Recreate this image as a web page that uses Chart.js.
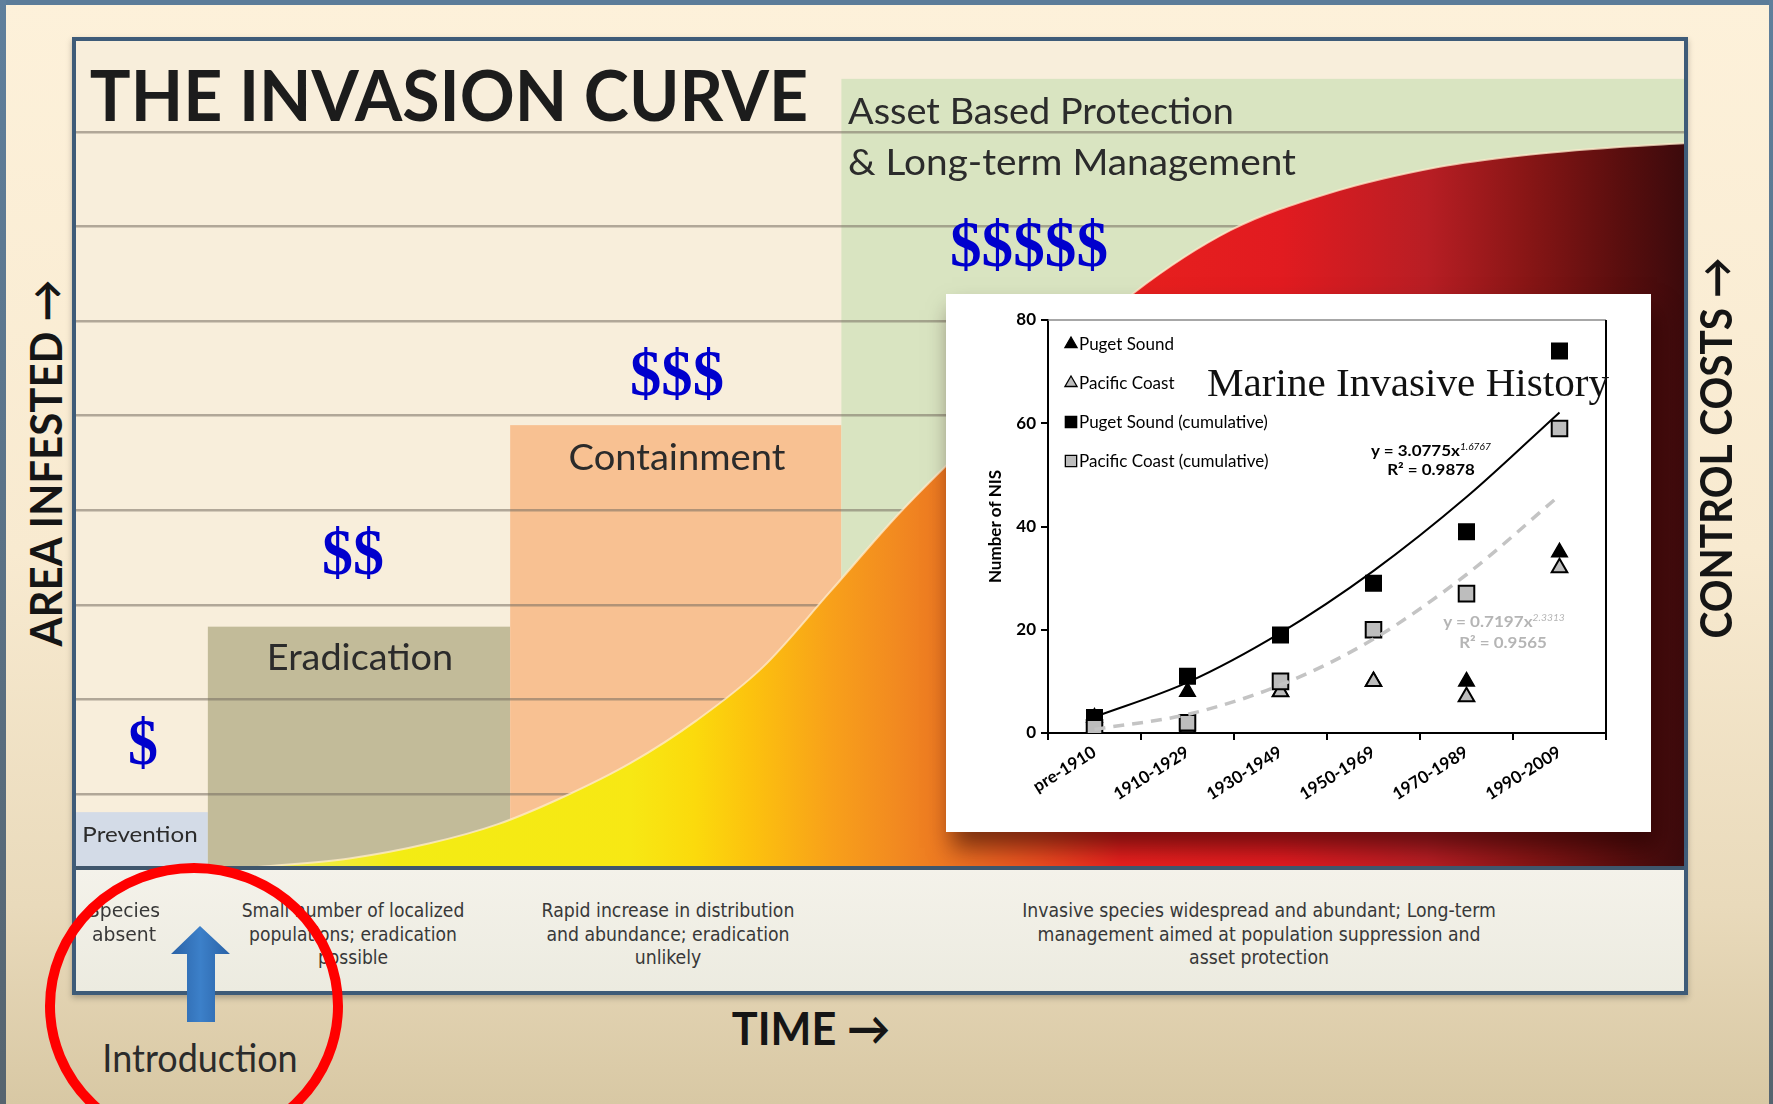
<!DOCTYPE html>
<html>
<head>
<meta charset="utf-8">
<title>The Invasion Curve</title>
<script src="https://cdn.jsdelivr.net/npm/chart.js@4.4.0/dist/chart.umd.min.js"></script>
<style>
html, body { margin: 0; padding: 0; }
body {
  width: 1773px; height: 1104px; overflow: hidden; position: relative;
  background: linear-gradient(to bottom, #fdf1da 0%, #f8ead0 50%, #e9dabb 82%, #d8c8a4 100%);
  font-family: Lato, sans-serif;
}
.band-top { position: absolute; left: 0; top: 0; width: 1773px; height: 5px; background: #5b7c99; z-index: 9; }
.band-left { position: absolute; left: 0; top: 0; width: 6px; height: 1104px; background: linear-gradient(#5f7f9c, #56646f); z-index: 9; }
.band-right { position: absolute; right: 0; top: 0; width: 4px; height: 1104px; background: linear-gradient(#5f7f9c, #56646f); z-index: 9; }
#frame {
  position: absolute; left: 72px; top: 37px; width: 1616px; height: 958px; box-sizing: border-box;
  border: 4px solid #3e5b78; background: #f8eedb; box-shadow: 0 3px 6px rgba(0,0,0,0.25);
}
#curveChart { position: absolute; left: 76px; top: 41px; z-index: 1; }
#strip {
  position: absolute; left: 76px; top: 866px; width: 1608px; height: 125px; box-sizing: border-box;
  border-top: 4px solid #3f566c; background: linear-gradient(#f4f2ea, #ecebe0); z-index: 3;
}
#inset {
  position: absolute; left: 946px; top: 294px; width: 705px; height: 538px; background: #fff;
  box-shadow: 6px 16px 22px rgba(30,0,0,0.55); z-index: 2;
}
#nisChart { position: absolute; left: 0; top: 0; }
.t { position: absolute; white-space: nowrap; line-height: 1; z-index: 4; }
.title { font-size: 70px; font-weight: bold; color: #1c1c1c; }
.lab { font-size: 36px; color: #2b2b2b; }
.cost { font-family: "Liberation Serif", serif; font-weight: bold; font-size: 66px; color: #0000cd; }
.note { font-family: "Liberation Sans Narrow", "DejaVu Sans Condensed", sans-serif; font-size: 20px; line-height: 23.5px; color: #383838; text-align: center; }
.axis { font-size: 44px; font-weight: bold; color: #151515; }
.eq { font-size: 15px; font-weight: bold; color: #000; }
.eq sup { font-size: 9px; font-weight: normal; font-style: italic; vertical-align: 6px; line-height: 0; }
.grey { color: #b5b5b5; }
#marks { position: absolute; left: 0; top: 0; z-index: 6; pointer-events: none; }
</style>
</head>
<body>
<div class="band-top"></div>
<div class="band-left"></div>
<div class="band-right"></div>

<div id="frame"></div>
<canvas id="curveChart" width="1608" height="826"></canvas>
<div id="strip"></div>

<div class="t title" data-x="449" data-y="94" data-w="718">THE INVASION CURVE</div>
<div class="t lab" data-x="1041" data-y="110" data-w="386">Asset Based Protection</div>
<div class="t lab" data-x="1072" data-y="161" data-w="448">&amp; Long-term Management</div>
<div class="t lab" data-x="677" data-y="456" data-w="217">Containment</div>
<div class="t lab" data-x="360" data-y="656" data-w="186">Eradication</div>
<div class="t lab" data-x="140" data-y="833" data-w="115" style="font-size:21px">Prevention</div>

<div class="t cost" data-x="143" data-y="742" data-w="30">$</div>
<div class="t cost" data-x="353" data-y="552" data-w="62">$$</div>
<div class="t cost" data-x="677" data-y="373" data-w="94">$$$</div>
<div class="t cost" data-x="1029" data-y="244" data-w="158">$$$$$</div>

<div class="t note" data-x="124" data-y="922" data-w="72">Species<br>absent</div>
<div class="t note" data-x="353" data-y="934" data-w="223">Small number of localized<br>populations; eradication<br>possible</div>
<div class="t note" data-x="668" data-y="934" data-w="253">Rapid increase in distribution<br>and abundance; eradication<br>unlikely</div>
<div class="t note" data-x="1259" data-y="934" data-w="474">Invasive species widespread and abundant; Long-term<br>management aimed at population suppression and<br>asset protection</div>

<div class="t axis" data-x="811" data-y="1028" data-w="158" style="font-size:46px">TIME &#8594;</div>
<div class="t lab" data-x="200" data-y="1057" data-w="195" style="font-size:38px">Introduction</div>
<div class="t axis" data-x="45" data-y="463" data-w="367" data-rot="1">AREA INFESTED &#8594;</div>
<div class="t axis" data-x="1715" data-y="448" data-w="381" data-rot="1">CONTROL COSTS &#8594;</div>

<div id="inset">
  <canvas id="nisChart" width="705" height="538"></canvas>
  <div class="t" data-x="462" data-y="89" data-w="402" style="font-family:'Liberation Serif',serif;font-size:40px;color:#111">Marine Invasive History</div>
  <div class="t eq" data-x="485" data-y="156" data-w="120">y = 3.0775x<sup>1.6767</sup></div>
  <div class="t eq" data-x="485" data-y="175" data-w="88">R² = 0.9878</div>
  <div class="t eq grey" data-x="558" data-y="327" data-w="122">y = 0.7197x<sup>2.3313</sup></div>
  <div class="t eq grey" data-x="557" data-y="348" data-w="88">R² = 0.9565</div>
</div>

<svg id="marks" width="1773" height="1104">
  <defs>
    <linearGradient id="arrowFill" x1="0" x2="1" y1="0" y2="0">
      <stop offset="0" stop-color="#2a62a6"/>
      <stop offset="0.5" stop-color="#3c80c9"/>
      <stop offset="1" stop-color="#2a62a6"/>
    </linearGradient>
  </defs>
  <polygon points="200,926 230,954 215,954 215,1022 187,1022 187,954 171,954" fill="url(#arrowFill)"/>
  <ellipse cx="194" cy="1006" rx="144" ry="138" fill="none" stroke="#ff0000" stroke-width="10"/>
</svg>

<script>
// invasion curve: area infested (grid units) against time (0-100)
const curveTime = [11.3, 17.0, 22.0, 26.2, 30.3, 34.5, 38.6, 42.7, 46.9, 51.1, 55.0, 60.0, 65.8, 71.8, 77.9, 84.8, 89.9, 96.0, 100];
const curveArea = [-0.77, -0.68, -0.52, -0.32, -0.03, 0.33, 0.78, 1.34, 2.14, 2.95, 3.62, 4.43, 5.30, 5.96, 6.35, 6.63, 6.75, 6.84, 6.88];
const gridLevels = [0, 1, 2, 3, 4, 5, 6, 7];

// management phases along the time axis
const phaseNames = ['Prevention', 'Eradication', 'Containment', 'Asset Based Protection'];
const phaseStart = [0, 8.2, 27.0, 47.6];
const phaseEnd = [8.2, 27.0, 47.6, 100];
const phaseTop = [-0.19, 1.77, 3.90, 7.56];

// inset: marine invasive history (number of NIS)
const periods = ['pre-1910', '1910-1929', '1930-1949', '1950-1969', '1970-1989', '1990-2009'];
const pugetSound = [3, 8, 8, 10, 10, 35];
const pacificCoast = [1, 1, 8, 10, 7, 32];
const pugetCumulative = [3, 11, 19, 29, 39, 74];
const pacificCumulative = [1, 2, 10, 20, 27, 59];
const pugetTrend = [3.1, 9.8, 19.4, 31.4, 45.7, 62.1];
const pacificTrend = [0.7, 3.6, 9.3, 18.2, 30.7, 46.0];
const nisTicks = [0, 20, 40, 60, 80];

// styles
const phaseColors = ['#d3dbe7', '#c2bb99', '#f8c192', '#d9e4c1'];
const curveStops = [
  [0.113, '#f0ea66'], [0.20, '#f3ec14'], [0.345, '#f7e814'], [0.385, '#fbda0c'],
  [0.42, '#fcc20e'], [0.47, '#f8a01a'], [0.51, '#f28a20'], [0.545, '#ec7422'],
  [0.60, '#ec4c20'], [0.65, '#e8201e'], [0.75, '#e11b20'], [0.84, '#b81e24'],
  [0.90, '#8a1616'], [0.96, '#5a0e0e'], [1, '#3c0a0c']
];

// place and fit the text labels
document.querySelectorAll('.t').forEach(el => {
  const w = +el.dataset.w;
  el.style.left = el.dataset.x + 'px';
  el.style.top = el.dataset.y + 'px';
  const k = w ? w / el.offsetWidth : 1;
  const rot = el.dataset.rot ? ' rotate(-90deg)' : '';
  el.style.transform = 'translate(-50%, -50%)' + rot + ' scaleX(' + k + ')';
});

const phaseBoxes = {                       // coloured phase blocks under the grid lines
  id: 'phaseBoxes',
  beforeDraw(chart) {
    const {ctx, chartArea: a, scales: {x, y}} = chart;
    ctx.save();
    ctx.fillStyle = '#f8eedb';
    ctx.fillRect(a.left, a.top, a.width, a.height);
    phaseNames.forEach((name, i) => {
      const x0 = x.getPixelForValue(phaseStart[i]);
      const x1 = x.getPixelForValue(phaseEnd[i]);
      const y0 = y.getPixelForValue(phaseTop[i]);
      ctx.fillStyle = phaseColors[i];
      ctx.fillRect(x0, y0, x1 - x0, a.bottom - y0);
    });
    ctx.restore();
  }
};

new Chart(document.getElementById('curveChart'), {
  type: 'line',
  data: {
    datasets: [{
      label: 'Invasion curve',
      data: curveTime.map((t, i) => ({x: t, y: curveArea[i]})),
      fill: 'start',
      cubicInterpolationMode: 'monotone',
      pointRadius: 0,
      borderWidth: 2,
      borderColor: 'rgba(255,236,205,0.75)',
      backgroundColor: function(context) {
        const a = context.chart.chartArea;
        if (!a) return null;
        const g = context.chart.ctx.createLinearGradient(a.left, 0, a.right, 0);
        curveStops.forEach(s => g.addColorStop(s[0], s[1]));
        return g;
      }
    }]
  },
  options: {
    responsive: false,
    animation: false,
    layout: {padding: 0},
    plugins: {legend: {display: false}, tooltip: {enabled: false}},
    scales: {
      x: {type: 'linear', min: 0, max: 100, display: false},
      y: {
        min: -0.77, max: 7.96,
        afterBuildTicks: s => { s.ticks = gridLevels.map(v => ({value: v})); },
        afterFit: s => { s.width = 0; },
        ticks: {display: false},
        border: {display: false},
        grid: {color: 'rgba(118,110,96,0.55)', lineWidth: 2.5, drawTicks: false}
      }
    }
  },
  plugins: [phaseBoxes]
});

const plotFrame = {                        // top and right edges of the inset plot
  id: 'plotFrame',
  beforeDatasetsDraw(chart) {
    const {ctx, chartArea: a} = chart;
    ctx.save();
    ctx.strokeStyle = '#8a8a8a';
    ctx.lineWidth = 1.5;
    ctx.beginPath(); ctx.moveTo(a.left, a.top); ctx.lineTo(a.right, a.top); ctx.stroke();
    ctx.strokeStyle = '#000';
    ctx.lineWidth = 2;
    ctx.beginPath(); ctx.moveTo(a.right, a.top); ctx.lineTo(a.right, a.bottom + 6); ctx.stroke();
    ctx.restore();
  }
};

const insetLegend = {                      // legend drawn inside the plot, top left
  id: 'insetLegend',
  afterDraw(chart) {
    const {ctx, chartArea: a} = chart;
    ctx.save();
    ctx.font = '17px Lato';
    ctx.textBaseline = 'middle';
    [0, 1, 2, 3].forEach((idx, i) => {
      const ds = chart.data.datasets[idx];
      const x = a.left + 23;
      const y = a.top + 24 + i * 39;
      ctx.fillStyle = ds.backgroundColor;
      ctx.strokeStyle = '#000';
      ctx.lineWidth = 1.3;
      Chart.helpers.drawPoint(ctx, {pointStyle: ds.pointStyle, rotation: 0, radius: ds.pointStyle === 'rect' ? 8 : 7, borderWidth: 1.3}, x, y);
      ctx.fillStyle = '#000';
      ctx.fillText(ds.label, x + 8, y + 1);
    });
    ctx.restore();
  }
};

const tickFont = {family: 'Lato', size: 17, weight: 'bold'};

new Chart(document.getElementById('nisChart'), {
  type: 'line',
  data: {
    labels: periods,
    datasets: [
      {label: 'Puget Sound', data: pugetSound, showLine: false, pointStyle: 'triangle', pointRadius: 9,
       backgroundColor: '#000', borderColor: '#000', borderWidth: 1.5, order: 4},
      {label: 'Pacific Coast', data: pacificCoast, showLine: false, pointStyle: 'triangle', pointRadius: 9,
       backgroundColor: '#bdbdbd', borderColor: '#000', borderWidth: 2, order: 3},
      {label: 'Puget Sound (cumulative)', data: pugetCumulative, showLine: false, pointStyle: 'rect', pointRadius: 11,
       backgroundColor: '#000', borderColor: '#000', borderWidth: 1.5, order: 2},
      {label: 'Pacific Coast (cumulative)', data: pacificCumulative, showLine: false, pointStyle: 'rect', pointRadius: 11,
       backgroundColor: '#bdbdbd', borderColor: '#000', borderWidth: 2, order: 1},
      {label: 'Puget Sound trend', data: pugetTrend, borderColor: '#000', borderWidth: 2, pointRadius: 0,
       cubicInterpolationMode: 'monotone', order: 0},
      {label: 'Pacific Coast trend', data: pacificTrend, borderColor: '#c4c4c4', borderWidth: 3.5, borderDash: [11, 8],
       pointRadius: 0, cubicInterpolationMode: 'monotone', order: 0}
    ]
  },
  options: {
    responsive: false,
    animation: false,
    layout: {padding: {left: 36, right: 45, top: 26, bottom: 0}},
    plugins: {legend: {display: false}, tooltip: {enabled: false}},
    scales: {
      x: {
        offset: true,
        grid: {offset: true, drawOnChartArea: false, tickLength: 7, color: '#000', lineWidth: 2},
        border: {color: '#000', width: 2},
        ticks: {autoSkip: false, minRotation: 32, maxRotation: 32, padding: 2, color: '#000', font: tickFont},
        afterFit: s => { s.height = 99; }
      },
      y: {
        min: 0, max: 80,
        afterBuildTicks: s => { s.ticks = nisTicks.map(v => ({value: v})); },
        grid: {drawOnChartArea: false, tickLength: 7, color: '#000', lineWidth: 2},
        border: {color: '#000', width: 2},
        ticks: {padding: 5, color: '#000', font: tickFont},
        title: {display: true, text: 'Number of NIS', color: '#000', font: tickFont, padding: {top: 3, bottom: 3}},
        afterFit: s => { s.width = 66; }
      }
    }
  },
  plugins: [plotFrame, insetLegend]
});
</script>
</body>
</html>
